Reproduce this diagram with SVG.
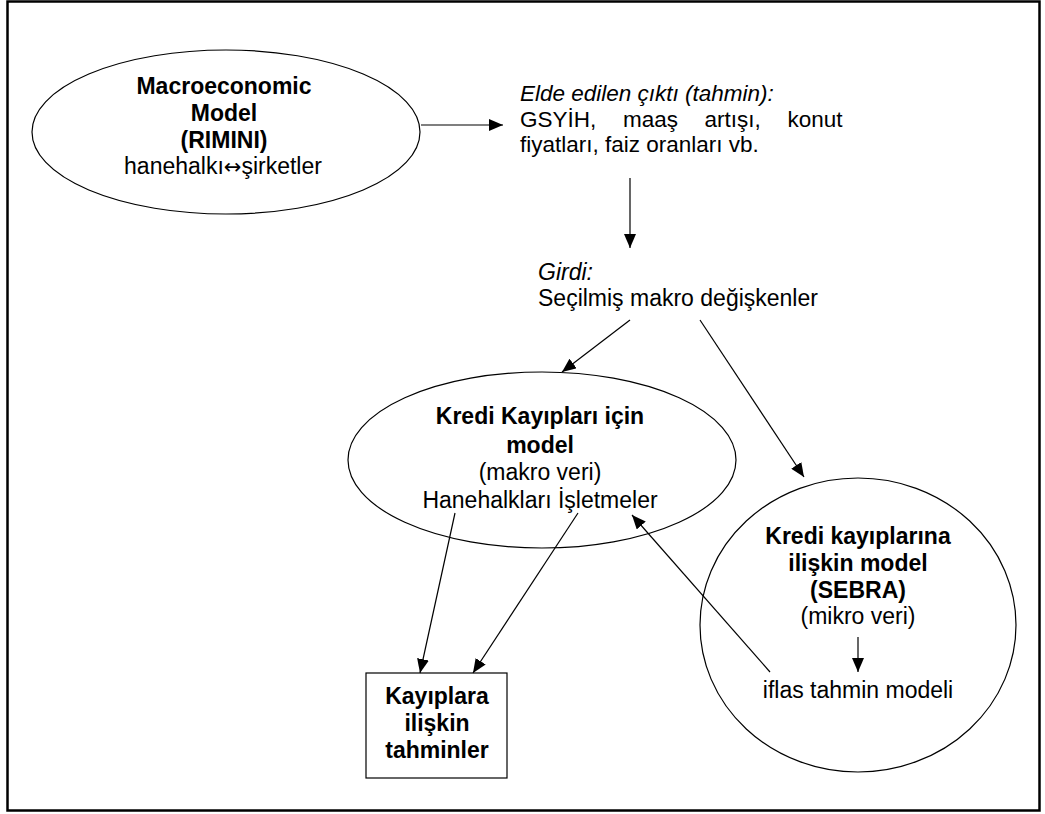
<svg xmlns="http://www.w3.org/2000/svg" width="1045" height="814" viewBox="0 0 1045 814">
  <style>
    .shape { fill: none; stroke: #000000; stroke-width: 1.2; }
    .link { fill: none; stroke: #000000; stroke-width: 1.2; marker-end: url(#head); }
    text { font-family: "Liberation Sans", Arial, sans-serif; font-size: 23px; fill: #000000; }
    .b { font-weight: bold; }
    .i { font-style: italic; }
    .c { text-anchor: middle; }
    .s { font-size: 22.5px; }
    .arrow { font-family: "DejaVu Sans", sans-serif; font-size: 21px; }
  </style>
  <defs>
    <marker id="head" viewBox="0 0 14 12" refX="14" refY="6" markerWidth="14" markerHeight="12" markerUnits="userSpaceOnUse" orient="auto">
      <path d="M0,0 L14,6 L0,12 Z" fill="#000000"/>
    </marker>
  </defs>

  <rect x="0" y="0" width="1045" height="814" fill="#ffffff"/>
  <!-- outer frame -->
  <rect x="7.5" y="1.5" width="1032" height="809" fill="none" stroke="#000000" stroke-width="2.5"/>

  <!-- connectors -->
  <g id="connectors">
    <line class="link" x1="421" y1="125" x2="503" y2="125"/>
    <line class="link" x1="630" y1="178" x2="630" y2="248"/>
    <line class="link" x1="630" y1="320" x2="562" y2="372"/>
    <line class="link" x1="700" y1="320" x2="804" y2="477"/>
    <line class="link" x1="455" y1="513" x2="420" y2="673"/>
    <line class="link" x1="578" y1="513" x2="473" y2="673"/>
    <line class="link" x1="770" y1="672" x2="632" y2="515"/>
    <line class="link" x1="858" y1="637" x2="858" y2="672"/>
  </g>

  <g id="macro-model">
    <ellipse class="shape" cx="226" cy="132" rx="194" ry="82"/>
    <text class="b c" x="224" y="94">Macroeconomic</text>
    <text class="b c" x="224" y="121">Model</text>
    <text class="b c" x="224" y="148">(RIMINI)</text>
    <text class="c" x="223" y="174">hanehalkı<tspan class="arrow">↔</tspan>şirketler</text>
  </g>

  <g id="macro-output">
    <text class="i s" x="520" y="101">Elde edilen çıktı (tahmin):</text>
    <!-- justified line: widened word gaps -->
    <text class="s" x="520" y="126.5" word-spacing="20.4">GSYİH, maaş artışı, konut</text>
    <text class="s" x="520" y="152">fiyatları, faiz oranları vb.</text>
  </g>

  <g id="input">
    <text class="i" x="538" y="280">Girdi:</text>
    <text x="538" y="306">Seçilmiş makro değişkenler</text>
  </g>

  <g id="credit-loss-macro">
    <ellipse class="shape" cx="542" cy="460" rx="194" ry="88"/>
    <text class="b c" x="540" y="424">Kredi Kayıpları için</text>
    <text class="b c" x="540" y="453">model</text>
    <text class="c" x="540" y="480">(makro veri)</text>
    <text class="c" x="540" y="508">Hanehalkları  İşletmeler</text>
  </g>

  <g id="credit-loss-sebra">
    <ellipse class="shape" cx="858" cy="625" rx="158" ry="147"/>
    <text class="b c" x="858" y="544">Kredi kayıplarına</text>
    <text class="b c" x="858" y="571">ilişkin model</text>
    <text class="b c" x="858" y="598">(SEBRA)</text>
    <text class="c" x="858" y="624">(mikro veri)</text>
    <text class="c" x="858" y="698">iflas tahmin modeli</text>
  </g>

  <g id="loss-forecasts">
    <rect class="shape" x="366" y="673" width="141" height="105"/>
    <text class="b c" x="437" y="704">Kayıplara</text>
    <text class="b c" x="437" y="731">ilişkin</text>
    <text class="b c" x="437" y="758">tahminler</text>
  </g>
</svg>
